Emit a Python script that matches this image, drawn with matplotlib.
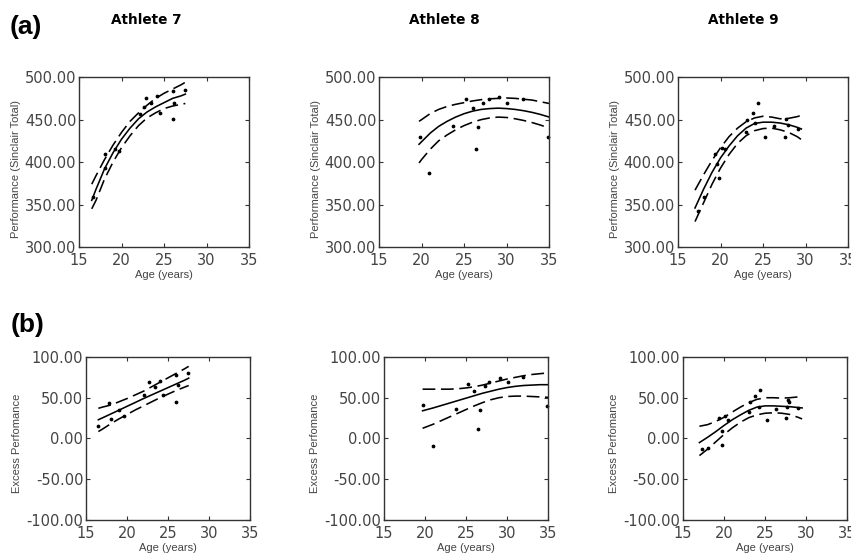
import matplotlib.pyplot as plt
from matplotlib.ticker import FormatStrFormatter

plt.rcParams['font.family'] = ['Liberation Sans', 'DejaVu Sans']

# --- Athlete 7 ---
age_7 = [16.7, 18.1, 18.1, 19.2, 19.65, 22.2, 22.6, 22.9, 23.5, 24.2, 24.5, 26.0, 26.1, 26.2, 27.5]
perf_7 = [359, 409, 393, 416, 413, 457, 465, 475, 469, 477.5, 458, 484, 451, 470, 485]
grid_7 = [16.5, 17, 18, 19, 20, 21, 22, 23, 24, 25, 26, 27, 27.5]
fit_7 = [355, 368, 392, 411, 427, 440, 451, 459, 465, 470, 475, 478, 480]
hi_7 = [374, 384, 403, 420, 435, 448, 458, 467, 475, 481, 486, 491, 494]
lo_7 = [345, 355, 380, 400, 417, 431, 443, 452, 458, 463, 466, 468, 469]

exc_age_7 = [16.5, 17.85, 18.0, 19.0, 19.6, 22.1, 22.7, 23.4, 24.0, 24.4, 25.9, 26.0, 26.2, 27.4]
exc_7 = [15.7, 43.5, 23.7, 35, 27.7, 53.8, 68.7, 62.7, 70.7, 53, 77.9, 44.6, 65.9, 80]
exc_grid_7 = [16.5, 17, 18, 19, 20, 21, 22, 23, 24, 25, 26, 27, 27.5]
exc_fit_7 = [23, 25.3, 30, 34.7, 39.5, 44.2, 49, 53.5, 58, 62.5, 67, 71.5, 74]
exc_hi_7 = [37, 38.5, 41, 45, 49, 53.5, 58, 63.5, 69, 74.5, 80, 85.5, 88.5]
exc_lo_7 = [8.5, 11.5, 18, 24, 29.5, 35, 40, 45, 50, 54.5, 59, 63, 65]

# --- Athlete 8 ---
age_8 = [19.76, 20.85, 23.65, 25.2, 26.07, 26.4, 26.6, 27.2, 27.9, 29.1, 30.05, 31.9, 34.9]
perf_8 = [429.8, 387, 442.7, 474, 464, 416, 441.5, 470, 474.7, 476.6, 469.6, 474, 429.8]
grid_8 = [19.7, 20, 21, 22, 23, 24, 25, 26, 27, 28, 29, 30, 31, 32, 33, 34, 35]
fit_8 = [421, 424, 434, 442, 448, 453, 457, 460, 462, 463, 463.5, 463, 462, 460.5, 458.5, 456, 453]
hi_8 = [448, 450, 457, 462, 465.5, 468, 470, 472, 473.5, 474.5, 475, 475.5, 475, 474, 473, 471, 469]
lo_8 = [399, 403, 415, 425, 432, 438, 443, 447, 450, 452, 453, 452.5, 451, 449, 446.5, 443.5, 440]

exc_age_8 = [19.8, 20.95, 23.75, 25.2, 26.0, 26.45, 26.65, 27.25, 27.85, 29.1, 30.05, 31.95, 34.9]
exc_8 = [41, -9.6, 35.7, 67, 57.8, 11.6, 35, 64.3, 69.9, 74.7, 69.5, 75.1, 40.2]
exc_grid_8 = [19.7, 21, 22, 23, 24, 25, 26, 27, 28, 29, 30, 31, 32, 33, 34, 35]
exc_fit_8 = [34, 37.5, 40.5, 43.5, 46.5, 49.5, 52.5, 55.5, 58, 60.5, 62.5, 64, 65, 65.5, 66, 66]
exc_hi_8 = [60.5, 60.5, 60.5, 60.5, 61, 62, 63.5, 65.5, 68, 70.5, 73, 75, 77, 78.5, 79.5, 80.5]
exc_lo_8 = [12.5, 17.5, 22, 26.5, 31, 35.5, 40, 44, 47.5, 50, 51.5, 52, 52, 51.5, 51, 50.5]

# --- Athlete 9 ---
age_9 = [17.3, 18.0, 19.4, 19.8, 19.6, 20.2, 20.5, 23.0, 23.1, 23.8, 24.45, 24.1, 25.2, 26.3, 27.6, 27.7, 27.9, 29.1]
perf_9 = [343, 358.6, 410, 381, 397.7, 417, 416, 435, 450, 458, 469, 446, 430, 442, 429, 451, 443.4, 439.5]
grid_9 = [17, 18, 19, 20, 21, 22, 23, 24, 25, 26, 27, 28, 29, 29.5]
fit_9 = [346, 368, 388, 405, 419, 431, 440, 445.5, 447, 447, 446, 444, 441, 439]
hi_9 = [367, 385, 402, 417, 430, 440, 447.5, 452, 454, 453, 451, 451.5, 453.5, 455]
lo_9 = [330, 352, 374, 393, 409, 422, 431, 437, 439.5, 440, 438, 435, 430, 426.5]

exc_age_9 = [17.33, 18.1, 19.4, 19.8, 19.74, 20.1, 20.5, 23.0, 23.2, 23.75, 24.4, 24.2, 25.2, 26.3, 27.5, 27.65, 27.8, 27.85, 29.05]
exc_9 = [-13.3, -11.6, 25.7, -7.6, 9.6, 27.7, 22.5, 32.5, 45, 51.8, 59.8, 39, 22.9, 35.7, 24.9, 39, 46.6, 45, 37]
exc_grid_9 = [17, 18, 19, 20, 21, 22, 23, 24, 25, 26, 27, 28, 29, 29.5]
exc_fit_9 = [-5, 1.5, 8.5, 16, 23, 29, 34.5, 38.5, 40, 40, 39.5, 39, 38, 37.5]
exc_hi_9 = [15, 17, 21, 26, 32.5, 38.5, 44, 48, 50, 50, 49.5, 50, 51, 51.5]
exc_lo_9 = [-21, -13, -4, 5, 13, 20, 25.5, 29, 31, 31.5, 31, 29.5, 26, 24]

titles = ["Athlete 7", "Athlete 8", "Athlete 9"]
perf_ticks = [300, 350, 400, 450, 500]
exc_ticks = [-100, -50, 0, 50, 100]
age_ticks = [15, 20, 25, 30, 35]

DASH = (8, 3.5)


def panel(ax, ages, vals, grid, fit, hi, lo, yticks, ylabel, ylab_y):
    ax.plot(grid, hi, color='black', lw=1.15, dashes=DASH)
    ax.plot(grid, lo, color='black', lw=1.15, dashes=DASH)
    ax.plot(grid, fit, color='black', lw=1.15)
    ax.plot(ages, vals, 'o', color='black', ms=1.7, clip_on=False)
    ax.set_xlim(15, 35)
    ax.set_ylim(yticks[0], yticks[-1])
    ax.set_xticks(age_ticks)
    ax.set_yticks(yticks)
    ax.yaxis.set_major_formatter(FormatStrFormatter('%.2f'))
    ax.tick_params(direction='in', length=3, width=0.8, top=True, right=True,
                   labelsize=10.5, colors='#333333', labelcolor='#444444')
    ax.tick_params(axis='y', pad=2)
    ax.tick_params(axis='x', pad=4)
    for lab in ax.get_xticklabels() + ax.get_yticklabels():
        lab.set_family('DejaVu Sans')
    for sp in ax.spines.values():
        sp.set_color('#333333')
        sp.set_linewidth(1.0)
    ax.set_xlabel("Age (years)", fontsize=8, color='#444444', labelpad=2)
    ax.set_ylabel(ylabel, fontsize=8, color='#444444', labelpad=3)
    ax.yaxis.label.set_y(ylab_y)


fig = plt.figure(figsize=(8.51, 5.59), dpi=100)

top_lefts = [0.0928, 0.4454, 0.7967]
bot_lefts = [0.1011, 0.4512, 0.8026]

top_data = [
    (age_7, perf_7, grid_7, fit_7, hi_7, lo_7),
    (age_8, perf_8, grid_8, fit_8, hi_8, lo_8),
    (age_9, perf_9, grid_9, fit_9, hi_9, lo_9),
]
bot_data = [
    (exc_age_7, exc_7, exc_grid_7, exc_fit_7, exc_hi_7, exc_lo_7),
    (exc_age_8, exc_8, exc_grid_8, exc_fit_8, exc_hi_8, exc_lo_8),
    (exc_age_9, exc_9, exc_grid_9, exc_fit_9, exc_hi_9, exc_lo_9),
]

for i in range(3):
    ax = fig.add_axes([top_lefts[i], 0.558, 0.200, 0.304])
    panel(ax, *top_data[i], perf_ticks, "Performance (Sinclair Total)", 0.46)
    ax2 = fig.add_axes([bot_lefts[i], 0.0698, 0.193, 0.2916])
    panel(ax2, *bot_data[i], exc_ticks, "Excess Perfomance", 0.47)

for x, t in zip([0.1716, 0.5217, 0.873], titles):
    fig.text(x, 0.964, t, ha='center', va='center', fontsize=9.8,
             fontweight='bold', family='DejaVu Sans')

fig.text(0.011, 0.951, "(a)", ha='left', va='center', fontsize=19, fontweight='bold')
fig.text(0.013, 0.419, "(b)", ha='left', va='center', fontsize=19, fontweight='bold')

fig.savefig("out.png", dpi=100)
